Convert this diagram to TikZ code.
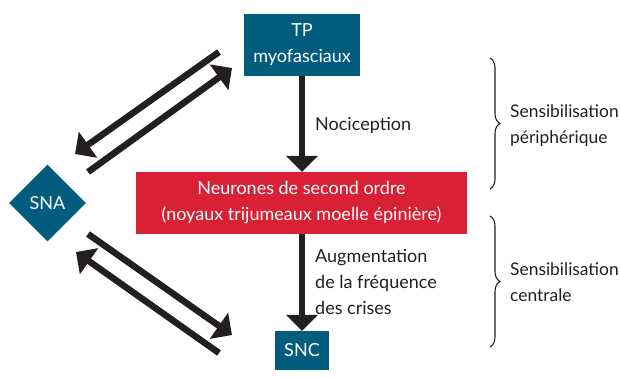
\documentclass[tikz,border=0pt]{standalone}
\usepackage{fontspec}
\setmainfont{Lato}
\usetikzlibrary{arrows.meta,shapes.geometric,decorations.pathreplacing}
\definecolor{boxblue}{RGB}{2,92,126}
\definecolor{boxred}{RGB}{218,32,52}
\definecolor{ink}{RGB}{35,31,32}
\begin{document}
\begin{tikzpicture}[x=1pt,y=-1pt,
  txt/.style={font=\fontsize{18}{26}\selectfont},
  bluebox/.style={txt,fill=boxblue,text=white,inner sep=0pt,align=center},
  redbox/.style={txt,fill=boxred,text=white,inner sep=0pt,align=center},
  bluediamond/.style={txt,diamond,aspect=1,fill=boxblue,text=white,inner sep=0pt},
  label/.style={txt,text=ink,align=left,inner sep=0pt,anchor=base west},
  sidelabel/.style={label,font=\fontsize{17.4}{26}\selectfont},
  bigarrow/.style={draw=ink,line width=6.5pt,-{Triangle[width=31pt,length=16pt]}},
  bracestyle/.style={draw=ink,line width=1.1pt,decorate,decoration={brace,amplitude=10pt}}
]
\useasboundingbox (0,0) rectangle (620,376);

\node[bluebox,minimum width=116pt,minimum height=62pt] (tp) at (302,45) {TP\\myofasciaux};
\node[redbox,minimum width=331pt,minimum height=62pt] (neur) at (301.5,203) {Neurones de second ordre\\(noyaux trijumeaux moelle épinière)};
\node[bluebox,minimum width=54pt,minimum height=39pt] (snc) at (302,350.5) {SNC};
\node[bluediamond,minimum width=77pt,minimum height=77pt] (sna) at (47.5,203) {SNA};

\draw[bigarrow] (tp.south) -- (tp.south |- neur.north);
\draw[bigarrow] (neur.south -| snc.north) -- (snc.north);

\coordinate (a1s) at (219,52);  \coordinate (a1e) at (75,154);
\coordinate (a2s) at (88,172);  \coordinate (a2e) at (232,68);
\coordinate (a3s) at (88,234);  \coordinate (a3e) at (232,335);
\coordinate (a4s) at (219,353); \coordinate (a4e) at (76,252);
\draw[bigarrow] (a1s) -- (a1e);
\draw[bigarrow] (a2s) -- (a2e);
\draw[bigarrow] (a3s) -- (a3e);
\draw[bigarrow] (a4s) -- (a4e);

% base anchor of a multi-line node is the baseline of its last line
\node[label] (noc) at (315,130) {Nociception};
\node[label] (aug) at (315,314) {Augmentation\\de la fréquence\\des crises};

\coordinate (b1t) at (490,58);  \coordinate (b1b) at (490,189);
\coordinate (b2t) at (490,216); \coordinate (b2b) at (490,347);
\draw[bracestyle] (b1t) -- (b1b);
\draw[bracestyle] (b2t) -- (b2b);

\node[sidelabel] (sp) at (510,143) {Sensibilisation\\périphérique};
\node[sidelabel] (sc) at (510,301) {Sensibilisation\\centrale};
\end{tikzpicture}
\end{document}
